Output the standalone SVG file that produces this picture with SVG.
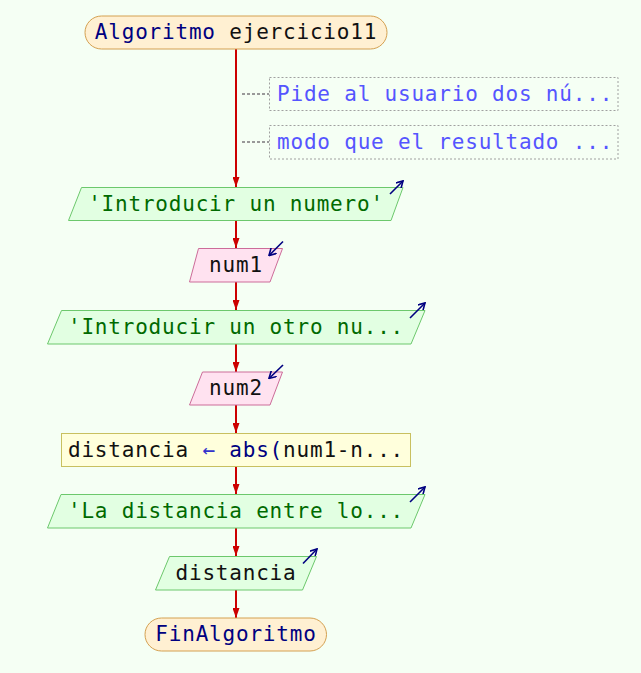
<svg xmlns="http://www.w3.org/2000/svg" width="641" height="673" viewBox="0 0 641 673">
  <style>
    text { font-family: "DejaVu Sans Mono", "Liberation Mono", monospace; font-size: 21px; letter-spacing: 0.8px; }
    .c { text-anchor: middle; }
    .kw { fill: #000080; }
    .var { fill: #111111; }
    .str { fill: #006a00; }
    .cmt { fill: #5555ff; }
    .terminal { fill: #fff0d2; stroke: #d4a050; stroke-width: 1; }
    .out { fill: #e2ffe2; stroke: #6cc86c; stroke-width: 1; }
    .in { fill: #ffe2f0; stroke: #cc6c99; stroke-width: 1; }
    .assign { fill: #ffffdc; stroke: #c8c060; stroke-width: 1; }
    .note { fill: none; stroke: #a0a0a0; stroke-width: 1; stroke-dasharray: 2 2; }
    .flow { stroke: #cc0000; stroke-width: 2; fill: none; marker-end: url(#ah); }
    .link { stroke: #999999; stroke-width: 2; stroke-dasharray: 3 2; fill: none; }
    .io { stroke: #000080; stroke-width: 1.6; fill: none; marker-end: url(#io); }
  </style>
  <defs>
    <marker id="ah" viewBox="0 0 10 7" refX="10" refY="3.5" markerWidth="10" markerHeight="7" markerUnits="userSpaceOnUse" orient="auto">
      <path d="M0,0 L10,3.5 L0,7 Z" fill="#cc0000"/>
    </marker>
    <marker id="io" viewBox="0 0 8 8" refX="7" refY="4" markerWidth="8" markerHeight="8" markerUnits="userSpaceOnUse" orient="auto">
      <path d="M0,0 L7,4 L0,8" fill="none" stroke="#000080" stroke-width="1.6"/>
    </marker>
  </defs>

  <rect width="641" height="673" fill="#f5fff4"/>

  <!-- connectors -->
  <g id="connectors">
    <line class="flow" x1="236" y1="49" x2="236" y2="187"/>
    <line class="flow" x1="236" y1="221" x2="236" y2="248"/>
    <line class="flow" x1="236" y1="282" x2="236" y2="310"/>
    <line class="flow" x1="236" y1="344" x2="236" y2="372"/>
    <line class="flow" x1="236" y1="405" x2="236" y2="433"/>
    <line class="flow" x1="236" y1="467" x2="236" y2="494"/>
    <line class="flow" x1="236" y1="528" x2="236" y2="556"/>
    <line class="flow" x1="236" y1="590" x2="236" y2="618"/>
    <line class="link" x1="242" y1="94" x2="269" y2="94"/>
    <line class="link" x1="242" y1="142" x2="269" y2="142"/>
  </g>

  <g id="start">
    <rect class="terminal" x="85" y="16" width="302" height="33" rx="16.5"/>
    <text class="c" x="236" y="39"><tspan class="kw">Algoritmo</tspan><tspan class="var"> ejercicio11</tspan></text>
  </g>

  <g id="note1">
    <rect class="note" x="269.5" y="77.5" width="348.5" height="33"/>
    <text class="cmt" x="277" y="101">Pide al usuario dos nú...</text>
  </g>

  <g id="note2">
    <rect class="note" x="269.5" y="125.5" width="348.5" height="33.5"/>
    <text class="cmt" x="277" y="149">modo que el resultado ...</text>
  </g>

  <g id="out1">
    <polygon class="out" points="81.5,187.5 403,187.5 391,220.5 68.5,220.5"/>
    <text class="c str" x="236" y="211">'Introducir un numero'</text>
    <line class="io" x1="390" y1="194" x2="403" y2="181"/>
  </g>

  <g id="in1">
    <polygon class="in" points="198.5,248.5 282.5,248.5 270,282 189.5,282"/>
    <text class="c var" x="236" y="272">num1</text>
    <line class="io" x1="283" y1="241.5" x2="269" y2="255.5"/>
  </g>

  <g id="out2">
    <polygon class="out" points="61.5,310.5 425,310.5 411,344 47.5,344"/>
    <text class="c str" x="236" y="334">'Introducir un otro nu...</text>
    <line class="io" x1="410" y1="318" x2="425" y2="303"/>
  </g>

  <g id="in2">
    <polygon class="in" points="202.5,372 282.5,372 270,405 189.5,405"/>
    <text class="c var" x="236" y="395">num2</text>
    <line class="io" x1="283" y1="365" x2="269" y2="378.5"/>
  </g>

  <g id="assign">
    <rect class="assign" x="61.5" y="433.5" width="349" height="33"/>
    <text class="c" x="236" y="457"><tspan class="var">distancia </tspan><tspan fill="#3333cc">←</tspan><tspan class="kw"> abs(</tspan><tspan class="var">num1-n...</tspan></text>
  </g>

  <g id="out3">
    <polygon class="out" points="61,494.5 425,494.5 411,528 47.5,528"/>
    <text class="c str" x="236" y="518">'La distancia entre lo...</text>
    <line class="io" x1="410" y1="502" x2="425" y2="487"/>
  </g>

  <g id="out4">
    <polygon class="out" points="169.5,556.5 316.5,556.5 302.5,590 155.5,590"/>
    <text class="c var" x="236" y="580">distancia</text>
    <line class="io" x1="303" y1="563.5" x2="317" y2="549"/>
  </g>

  <g id="end">
    <rect class="terminal" x="145" y="618" width="181.5" height="33" rx="16.5"/>
    <text class="c kw" x="236" y="641">FinAlgoritmo</text>
  </g>
</svg>
